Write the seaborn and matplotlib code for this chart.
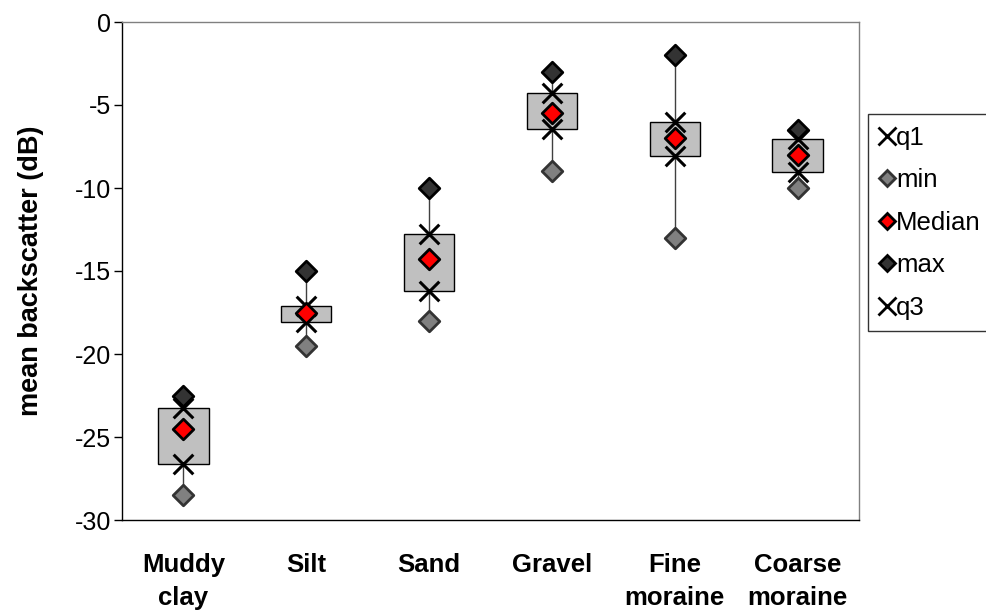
import matplotlib
matplotlib.use("Agg")
import matplotlib.pyplot as plt
from matplotlib.lines import Line2D
import seaborn as sns
import pandas as pd
import numpy as np

categories = ["Muddy\nclay", "Silt", "Sand", "Gravel", "Fine\nmoraine", "Coarse\nmoraine"]
min_vals = [-28.5, -19.5, -18.0, -9.0, -13.0, -10.0]
q3_vals = [-26.6, -18.1, -16.2, -6.45, -8.05, -9.05]
median_vals = [-24.5, -17.5, -14.3, -5.5, -7.0, -8.0]
q1_vals = [-23.25, -17.1, -12.8, -4.25, -6.0, -7.05]
max_vals = [-22.5, -15.0, -10.0, -3.0, -2.0, -6.5]
y_ticks = [0, -5, -10, -15, -20, -25, -30]

df = pd.DataFrame({"cat": categories, "min": min_vals, "q3": q3_vals,
                   "Median": median_vals, "q1": q1_vals, "max": max_vals})

sns.set_theme(style="white")
plt.rcParams["font.family"] = ["Liberation Sans", "DejaVu Sans"]
plt.rcParams["text.color"] = "black"
plt.rcParams["axes.labelcolor"] = "black"
plt.rcParams["xtick.color"] = "black"
plt.rcParams["ytick.color"] = "black"

fig = plt.figure(figsize=(9.86, 6.13), dpi=100)
ax = fig.add_axes([122/986, 1-520/613, (859-122)/986, (520-22)/613])

x = np.arange(len(categories))

# whiskers
ax.vlines(x, df["min"], df["max"], color="#404040", lw=1.0, zorder=1)
# boxes
ax.bar(x, df["q1"] - df["q3"], bottom=df["q3"], width=0.41,
       color="#c0c0c0", edgecolor="black", linewidth=1.0, zorder=2)

sns.scatterplot(data=df, x="cat", y="min", marker="D", s=110, color="#808080",
                edgecolor="#333333", linewidth=2, ax=ax, zorder=3)
sns.scatterplot(data=df, x="cat", y="max", marker="D", s=110, color="#333333",
                edgecolor="black", linewidth=2, ax=ax, zorder=3)
sns.scatterplot(data=df, x="cat", y="q1", marker="x", s=200, color="black",
                linewidth=2.2, ax=ax, zorder=4)
sns.scatterplot(data=df, x="cat", y="q3", marker="x", s=200, color="black",
                linewidth=2.2, ax=ax, zorder=4)
sns.scatterplot(data=df, x="cat", y="Median", marker="D", s=110, color="#ff0000",
                edgecolor="black", linewidth=2, ax=ax, zorder=5)

ax.set_xlim(-0.5, len(categories) - 0.5)
ax.set_ylim(-30, 0)
ax.set_yticks(y_ticks)
ax.set_yticklabels([str(v) for v in y_ticks], fontsize=18, color="black")
ax.set_xticks(x)
ax.set_xticklabels(categories, fontsize=18.5, fontweight="bold", color="black",
                   linespacing=1.45)
ax.set_xticks(np.arange(-0.5, len(categories)), minor=True)
ax.tick_params(axis="x", which="major", length=0, pad=24)
ax.tick_params(axis="x", which="minor", length=6, width=1, direction="out", color="black")
ax.tick_params(axis="y", which="major", length=6, width=1, direction="out", color="black",
               left=True, pad=2)
ax.set_xlabel("")
ax.set_ylabel("mean backscatter (dB)", fontsize=19.5, fontweight="bold", color="black")
ax.yaxis.set_label_coords((44-122)/737, 0.5)

for s in ["left", "bottom"]:
    ax.spines[s].set_color("black")
    ax.spines[s].set_linewidth(1.0)
for s in ["top", "right"]:
    ax.spines[s].set_color("#808080")
    ax.spines[s].set_linewidth(1.0)

handles = [
    Line2D([], [], marker="x", ls="none", color="black", markersize=13, markeredgewidth=2),
    Line2D([], [], marker="D", ls="none", markerfacecolor="#808080", markeredgecolor="#333333", markersize=8, markeredgewidth=2),
    Line2D([], [], marker="D", ls="none", markerfacecolor="#ff0000", markeredgecolor="black", markersize=8, markeredgewidth=2),
    Line2D([], [], marker="D", ls="none", markerfacecolor="#333333", markeredgecolor="black", markersize=8, markeredgewidth=2),
    Line2D([], [], marker="x", ls="none", color="black", markersize=13, markeredgewidth=2),
]
labels = ["q1", "min", "Median", "max", "q3"]
leg = fig.legend(handles, labels, loc="upper left", bbox_to_anchor=(868/986, 1-114/613),
                 fontsize=18.5, frameon=True, fancybox=False, borderpad=0.45,
                 labelspacing=0.72, handlelength=0.6, handletextpad=0.05, borderaxespad=0)
leg.get_frame().set_edgecolor("black")
leg.get_frame().set_linewidth(1.0)
for t in leg.get_texts():
    t.set_color("black")

fig.savefig("out.png", dpi=100)
